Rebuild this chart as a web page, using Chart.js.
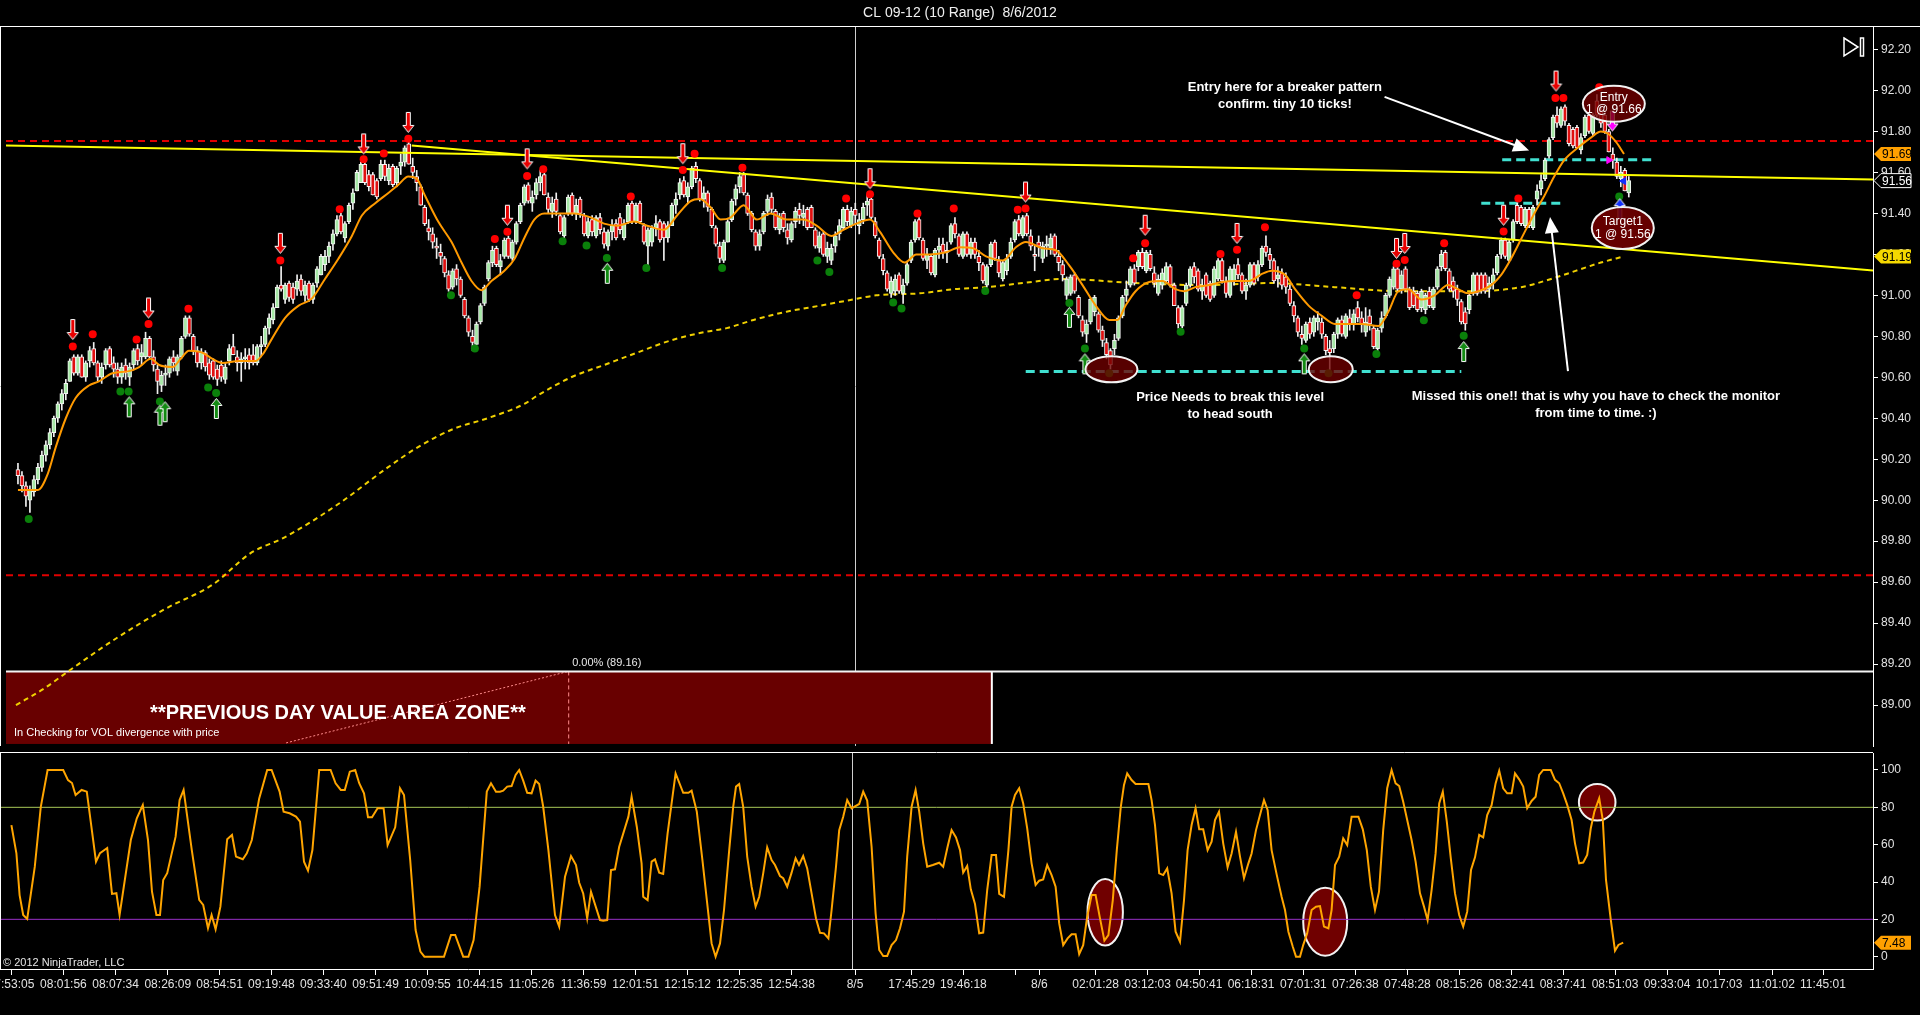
<!DOCTYPE html>
<html>
<head>
<meta charset="utf-8">
<title>CL 09-12 (10 Range) 8/6/2012</title>
<script src="https://cdn.jsdelivr.net/npm/chart.js@4.4.0/dist/chart.umd.min.js"></script>
<style>
  html, body { margin: 0; padding: 0; background: #000; overflow: hidden; }
  #wrap { position: relative; width: 1920px; height: 1015px; background: #000; }
  canvas { position: absolute; left: 0; }
  #priceCv { top: 0; }
  #oscCv { top: 740px; }
</style>
</head>
<body>
<div id="wrap">
  <canvas id="priceCv" width="1920" height="752"></canvas>
  <canvas id="oscCv" width="1920" height="275"></canvas>
</div>
<script>
// ---- range bars (10 ticks), one entry per bar ----
const opens = [
  90.15,90.12,90.07,90.00,90.04,90.10,90.16,90.22,90.27,90.33,
  90.40,90.47,90.52,90.58,90.70,90.62,90.70,90.60,90.68,90.74,
  90.67,90.60,90.66,90.74,90.67,90.64,90.60,90.66,90.60,90.66,
  90.74,90.70,90.70,90.79,90.70,90.64,90.56,90.61,90.62,90.70,
  90.63,90.70,90.80,90.89,90.80,90.73,90.67,90.72,90.67,90.68,
  90.64,90.66,90.59,90.68,90.75,90.70,90.67,90.69,90.71,90.71,
  90.67,90.75,90.76,90.84,90.88,90.94,91.05,90.98,91.06,91.04,
  91.03,91.08,91.00,91.06,90.98,91.06,91.10,91.15,91.19,91.25,
  91.30,91.39,91.28,91.36,91.45,91.51,91.55,91.64,91.59,91.59,
  91.56,91.57,91.64,91.56,91.63,91.55,91.63,91.65,91.74,91.63,
  91.58,91.53,91.43,91.33,91.30,91.24,91.21,91.18,91.10,91.04,
  91.13,91.08,90.98,90.89,90.80,90.76,90.87,90.96,91.08,91.16,
  91.23,91.14,91.19,91.28,91.18,91.26,91.36,91.45,91.54,91.45,
  91.49,91.55,91.59,91.48,91.41,91.47,91.39,91.29,91.40,91.49,
  91.40,91.47,91.39,91.29,91.37,91.29,91.38,91.31,91.24,91.31,
  91.35,91.38,91.28,91.36,91.45,91.36,91.45,91.34,91.24,91.26,
  91.33,91.36,91.35,91.28,91.34,91.44,91.49,91.56,91.48,91.53,
  91.63,91.56,91.47,91.50,91.42,91.33,91.24,91.17,91.26,91.37,
  91.47,91.53,91.59,91.49,91.40,91.31,91.24,91.31,91.41,91.48,
  91.41,91.32,91.40,91.32,91.27,91.36,91.42,91.38,91.42,91.43,
  91.32,91.23,91.30,91.19,91.17,91.24,91.30,91.33,91.42,91.34,
  91.42,91.34,91.37,91.44,91.47,91.36,91.27,91.18,91.11,91.01,
  91.02,91.10,91.01,91.06,91.17,91.27,91.37,91.27,91.17,91.19,
  91.10,91.22,91.25,91.21,91.26,91.35,91.29,91.19,91.30,91.20,
  91.26,91.19,91.15,91.05,91.15,91.26,91.17,91.08,91.12,91.19,
  91.27,91.37,91.29,91.39,91.29,91.20,91.26,91.18,91.24,91.23,
  91.29,91.19,91.15,91.00,91.01,91.10,90.99,90.88,90.81,90.87,
  90.92,90.91,90.83,90.77,90.73,90.74,90.79,90.90,91.00,91.05,
  91.13,91.14,91.21,91.12,91.20,91.11,91.01,91.05,91.07,91.14,
  91.05,90.94,90.85,90.96,91.05,91.14,91.12,91.02,91.10,91.06,
  91.00,91.08,91.17,91.07,91.00,91.07,91.15,91.10,91.02,91.05,
  91.15,91.09,91.15,91.24,91.20,91.17,91.08,91.11,91.09,91.03,
  90.95,90.89,90.81,90.78,90.87,90.82,90.87,90.87,90.80,90.74,
  90.74,90.81,90.88,90.80,90.89,90.86,90.94,90.89,90.82,90.90,
  90.84,90.74,90.84,90.90,91.00,91.04,91.13,91.03,91.13,91.03,
  91.02,91.01,90.94,90.93,91.02,90.94,91.04,91.14,91.21,91.12,
  91.07,91.03,90.97,90.92,90.93,91.01,91.10,91.10,91.10,91.03,
  91.06,91.11,91.20,91.27,91.17,91.27,91.44,91.43,91.34,91.42,
  91.33,91.47,91.52,91.57,91.68,91.77,91.88,91.83,91.92,91.83,
  91.81,91.82,91.71,91.78,91.88,91.79,91.95,91.90,91.88,91.80,
  91.69,91.65,91.57,91.61,91.50
];
const highs = [
  90.18,90.14,90.09,90.07,90.12,90.18,90.24,90.29,90.35,90.41,
  90.48,90.54,90.59,90.69,90.71,90.71,90.71,90.68,90.75,90.77,
  90.68,90.67,90.74,90.75,90.70,90.67,90.67,90.69,90.67,90.74,
  90.76,90.76,90.82,90.80,90.73,90.66,90.63,90.66,90.70,90.73,
  90.71,90.80,90.90,90.90,90.81,90.75,90.74,90.73,90.69,90.69,
  90.66,90.68,90.67,90.76,90.81,90.73,90.72,90.74,90.74,90.76,
  90.76,90.80,90.85,90.91,90.96,91.05,91.14,91.06,91.07,91.06,
  91.10,91.10,91.07,91.07,91.06,91.14,91.20,91.22,91.26,91.32,
  91.39,91.40,91.36,91.45,91.52,91.61,91.65,91.65,91.61,91.60,
  91.57,91.66,91.66,91.64,91.64,91.63,91.69,91.73,91.75,91.67,
  91.61,91.54,91.44,91.37,91.33,91.28,91.25,91.19,91.12,91.13,
  91.15,91.09,90.99,90.90,90.83,90.87,90.96,91.05,91.17,91.24,
  91.24,91.20,91.28,91.29,91.27,91.36,91.45,91.54,91.55,91.51,
  91.57,91.61,91.60,91.50,91.48,91.50,91.40,91.39,91.49,91.50,
  91.47,91.48,91.40,91.38,91.39,91.39,91.40,91.33,91.32,91.37,
  91.37,91.40,91.37,91.45,91.46,91.45,91.46,91.35,91.33,91.34,
  91.39,91.37,91.36,91.36,91.45,91.50,91.57,91.58,91.55,91.63,
  91.65,91.57,91.53,91.51,91.43,91.34,91.26,91.27,91.37,91.47,
  91.54,91.60,91.60,91.50,91.41,91.32,91.32,91.41,91.49,91.50,
  91.42,91.40,91.41,91.35,91.36,91.43,91.45,91.44,91.43,91.44,
  91.33,91.31,91.31,91.26,91.25,91.31,91.37,91.43,91.44,91.43,
  91.45,91.40,91.45,91.49,91.48,91.38,91.28,91.20,91.12,91.09,
  91.10,91.11,91.08,91.16,91.27,91.37,91.38,91.28,91.23,91.20,
  91.23,91.28,91.28,91.26,91.35,91.38,91.30,91.31,91.31,91.28,
  91.28,91.22,91.16,91.15,91.26,91.27,91.19,91.17,91.20,91.28,
  91.37,91.39,91.39,91.40,91.32,91.24,91.29,91.26,91.29,91.30,
  91.30,91.22,91.17,91.09,91.10,91.11,91.00,90.90,90.88,90.99,
  91.00,90.92,90.85,90.79,90.74,90.81,90.90,91.00,91.07,91.14,
  91.15,91.22,91.23,91.22,91.22,91.14,91.10,91.13,91.16,91.15,
  91.06,90.95,90.95,91.06,91.14,91.16,91.13,91.08,91.11,91.07,
  91.14,91.18,91.18,91.09,91.14,91.15,91.18,91.11,91.08,91.16,
  91.16,91.17,91.24,91.29,91.23,91.18,91.14,91.13,91.11,91.05,
  90.97,90.90,90.85,90.87,90.89,90.90,90.92,90.89,90.81,90.78,
  90.82,90.89,90.90,90.91,90.93,90.93,90.97,90.92,90.94,90.93,
  90.85,90.84,90.92,91.01,91.09,91.14,91.14,91.12,91.14,91.04,
  91.04,91.02,91.03,91.01,91.04,91.04,91.14,91.22,91.22,91.13,
  91.09,91.05,90.98,90.94,91.01,91.11,91.11,91.11,91.11,91.09,
  91.13,91.20,91.28,91.28,91.27,91.37,91.45,91.44,91.43,91.43,
  91.44,91.54,91.59,91.67,91.77,91.88,91.92,91.92,91.93,91.84,
  91.82,91.83,91.79,91.88,91.89,91.89,91.98,91.92,91.89,91.81,
  91.72,91.67,91.63,91.62,91.58
];
const lows = [
  90.08,90.04,89.97,89.94,90.02,90.08,90.14,90.19,90.25,90.31,
  90.38,90.44,90.49,90.58,90.61,90.61,90.60,90.58,90.65,90.66,
  90.58,90.57,90.64,90.65,90.60,90.57,90.57,90.59,90.56,90.64,
  90.66,90.66,90.69,90.69,90.63,90.52,90.53,90.56,90.60,90.63,
  90.61,90.69,90.79,90.80,90.71,90.65,90.64,90.63,90.59,90.59,
  90.56,90.58,90.57,90.66,90.71,90.63,90.58,90.64,90.64,90.66,
  90.66,90.70,90.75,90.81,90.86,90.94,91.02,90.96,90.97,90.96,
  91.00,91.00,90.97,90.97,90.96,91.04,91.10,91.12,91.16,91.22,
  91.29,91.30,91.26,91.35,91.42,91.51,91.55,91.54,91.51,91.49,
  91.47,91.56,91.56,91.54,91.53,91.53,91.59,91.63,91.64,91.57,
  91.51,91.44,91.34,91.27,91.23,91.18,91.15,91.09,91.02,91.03,
  91.05,90.99,90.89,90.80,90.73,90.76,90.86,90.95,91.07,91.14,
  91.14,91.10,91.18,91.18,91.17,91.25,91.35,91.44,91.45,91.41,
  91.47,91.51,91.49,91.40,91.38,91.39,91.30,91.28,91.39,91.39,
  91.37,91.38,91.29,91.28,91.29,91.28,91.30,91.23,91.22,91.27,
  91.27,91.30,91.27,91.35,91.35,91.35,91.35,91.25,91.15,91.24,
  91.29,91.26,91.17,91.26,91.34,91.40,91.47,91.48,91.45,91.52,
  91.55,91.46,91.43,91.41,91.33,91.24,91.16,91.16,91.26,91.36,
  91.44,91.50,91.49,91.39,91.31,91.22,91.22,91.30,91.39,91.40,
  91.32,91.30,91.31,91.25,91.26,91.33,91.35,91.34,91.32,91.33,
  91.23,91.21,91.19,91.16,91.15,91.21,91.27,91.32,91.34,91.33,
  91.35,91.30,91.35,91.39,91.37,91.28,91.18,91.10,91.02,90.99,
  91.00,91.01,90.96,91.05,91.16,91.26,91.27,91.17,91.13,91.10,
  91.09,91.18,91.18,91.16,91.25,91.28,91.19,91.18,91.19,91.18,
  91.18,91.12,91.06,91.04,91.14,91.17,91.09,91.07,91.10,91.18,
  91.26,91.29,91.28,91.29,91.22,91.12,91.19,91.16,91.19,91.20,
  91.19,91.12,91.07,90.98,91.00,91.01,90.89,90.80,90.77,90.86,
  90.90,90.82,90.75,90.69,90.64,90.71,90.78,90.89,90.97,91.04,
  91.05,91.12,91.13,91.11,91.12,91.04,91.00,91.03,91.06,91.04,
  90.95,90.84,90.84,90.95,91.04,91.06,91.02,90.98,90.99,90.97,
  90.99,91.07,91.06,90.99,90.99,91.05,91.08,91.01,90.98,91.04,
  91.05,91.07,91.14,91.19,91.13,91.06,91.04,91.03,91.01,90.95,
  90.87,90.80,90.76,90.77,90.79,90.80,90.83,90.79,90.71,90.63,
  90.72,90.79,90.80,90.79,90.83,90.83,90.87,90.82,90.80,90.83,
  90.74,90.73,90.82,90.89,90.99,91.03,91.02,91.01,91.02,90.93,
  90.94,90.92,90.92,90.91,90.94,90.93,91.03,91.12,91.12,91.02,
  90.99,90.95,90.86,90.83,90.91,91.00,91.00,91.01,91.01,90.99,
  91.03,91.10,91.18,91.18,91.16,91.26,91.35,91.34,91.33,91.33,
  91.32,91.44,91.49,91.56,91.67,91.76,91.82,91.82,91.83,91.73,
  91.72,91.72,91.69,91.77,91.79,91.78,91.87,91.82,91.79,91.70,
  91.62,91.57,91.53,91.51,91.48
];
const closes = [
  90.12,90.07,90.02,90.05,90.10,90.16,90.22,90.27,90.33,90.40,
  90.47,90.52,90.57,90.68,90.62,90.70,90.60,90.67,90.73,90.67,
  90.60,90.65,90.73,90.66,90.64,90.60,90.65,90.62,90.65,90.73,
  90.68,90.72,90.79,90.70,90.66,90.58,90.61,90.62,90.69,90.67,
  90.70,90.79,90.89,90.81,90.73,90.67,90.72,90.65,90.61,90.60,
  90.59,90.60,90.65,90.74,90.71,90.67,90.69,90.70,90.67,90.67,
  90.75,90.76,90.84,90.89,90.94,91.04,91.03,91.05,90.99,90.98,
  91.07,91.02,91.05,90.98,91.05,91.13,91.19,91.19,91.24,91.30,
  91.37,91.31,91.35,91.44,91.50,91.60,91.64,91.55,91.53,91.49,
  91.48,91.64,91.58,91.62,91.54,91.62,91.65,91.72,91.64,91.60,
  91.55,91.44,91.35,91.31,91.26,91.23,91.19,91.11,91.03,91.12,
  91.08,91.00,90.90,90.82,90.77,90.86,90.95,91.04,91.16,91.22,
  91.15,91.17,91.27,91.19,91.26,91.35,91.44,91.53,91.46,91.48,
  91.55,91.58,91.49,91.42,91.45,91.41,91.31,91.38,91.48,91.40,
  91.44,91.40,91.30,91.36,91.31,91.38,91.32,91.25,91.31,91.34,
  91.28,91.32,91.35,91.44,91.36,91.44,91.36,91.26,91.32,91.33,
  91.35,91.27,91.28,91.34,91.44,91.47,91.55,91.49,91.53,91.62,
  91.57,91.47,91.50,91.43,91.34,91.25,91.18,91.26,91.36,91.46,
  91.52,91.58,91.50,91.40,91.32,91.24,91.30,91.40,91.47,91.42,
  91.33,91.38,91.33,91.28,91.35,91.41,91.39,91.40,91.33,91.33,
  91.24,91.29,91.20,91.23,91.23,91.29,91.34,91.42,91.36,91.41,
  91.39,91.37,91.43,91.46,91.38,91.29,91.19,91.12,91.03,91.07,
  91.08,91.02,91.05,91.15,91.26,91.36,91.28,91.18,91.20,91.11,
  91.22,91.24,91.21,91.22,91.34,91.30,91.20,91.30,91.20,91.26,
  91.20,91.16,91.07,91.14,91.25,91.18,91.11,91.16,91.18,91.26,
  91.36,91.30,91.38,91.30,91.24,91.19,91.24,91.24,91.25,91.28,
  91.20,91.16,91.10,91.08,91.09,91.02,90.90,90.82,90.86,90.98,
  90.99,90.83,90.78,90.71,90.66,90.78,90.89,90.99,91.03,91.13,
  91.06,91.21,91.14,91.21,91.13,91.06,91.08,91.11,91.14,91.05,
  90.95,90.86,90.94,91.05,91.13,91.09,91.03,91.05,91.00,90.98,
  91.13,91.17,91.07,91.01,91.13,91.13,91.10,91.02,91.05,91.15,
  91.06,91.15,91.23,91.21,91.17,91.07,91.10,91.05,91.04,90.96,
  90.90,90.82,90.79,90.86,90.81,90.89,90.89,90.81,90.73,90.72,
  90.81,90.88,90.81,90.90,90.86,90.91,90.89,90.86,90.87,90.86,
  90.75,90.83,90.89,91.00,91.08,91.13,91.03,91.10,91.03,90.94,
  90.95,90.93,91.02,91.00,90.95,91.03,91.13,91.20,91.13,91.03,
  91.02,90.98,90.87,90.86,91.00,91.10,91.01,91.02,91.02,91.06,
  91.10,91.19,91.27,91.19,91.26,91.36,91.36,91.35,91.42,91.34,
  91.43,91.51,91.56,91.66,91.76,91.87,91.84,91.91,91.85,91.74,
  91.73,91.72,91.77,91.87,91.80,91.88,91.88,91.84,91.80,91.70,
  91.66,91.58,91.60,91.51,91.56
];

// ---- fast average (orange) and slow average (dashed yellow), sampled along the curve ----
const emaIdx = [
  0,5,7.5,9.5,12,14.5,17.8,20.3,23.7,27.8,
  30.4,33.3,35.4,38.8,40.8,42.9,46.3,48.8,51.3,55.4,
  59.6,61.3,63.75,67,70.4,73.75,77,80.4,83.75,86.25,
  89.6,92.9,95.4,97.9,100,102,105.4,108.75,111.25,113.75,
  116.25,118.75,122,124.6,127,129.5,132,135.3,139.5,143.7,
  147,150.3,154.5,157.8,162,165.3,168.7,171,173.7,176.2,
  178.7,182,185.3,188.7,192.8,197,200.3,204,207,210.3,
  213.7,216.2,219.5,222.4,225.3,228.7,232.8,236.2,239.5,242.8,
  247,250.3,252.8,257,260.3,263.7,267,270.3,273.7,275.75,
  277.8,280.3,283.7,287,290.3,292.4,295.3,298.7,302,305.3,
  308.7,312,314.5,317.8,320.3,323.7,327,330.3,333.7,337,
  341.2,343.7,346.2,348.7,352,355.3,358.7,361.2,363.7,367,
  369.5,372,374.5,377,380.3,382.8,385.3,387.8,391.2,394.5,
  397,398.7,400.75,402.8
];
const emaVal = [
  90.05,90.05,90.13,90.26,90.40,90.50,90.56,90.58,90.62,90.63,
  90.65,90.69,90.66,90.65,90.69,90.73,90.72,90.69,90.67,90.68,
  90.68,90.71,90.79,90.89,90.95,90.985,91.08,91.18,91.29,91.39,
  91.45,91.50,91.54,91.58,91.57,91.49,91.36,91.26,91.16,91.07,
  91.025,91.07,91.12,91.18,91.28,91.37,91.40,91.40,91.40,91.38,
  91.35,91.34,91.36,91.34,91.32,91.39,91.46,91.47,91.43,91.37,
  91.38,91.44,91.37,91.40,91.37,91.37,91.34,91.29,91.32,91.35,
  91.37,91.31,91.21,91.16,91.20,91.20,91.21,91.235,91.23,91.19,
  91.17,91.235,91.26,91.23,91.22,91.145,91.05,90.95,90.88,90.88,
  90.95,91.02,91.065,91.07,91.03,91.02,91.04,91.05,91.065,91.07,
  91.07,91.105,91.12,91.10,91.03,90.95,90.90,90.86,90.86,90.86,
  90.85,90.92,91.02,91.03,90.98,91.00,91.05,91.03,91.01,91.025,
  91.05,91.10,91.18,91.275,91.40,91.485,91.58,91.66,91.72,91.77,
  91.80,91.79,91.75,91.69
];
const smaIdx = [
  -0.5,6.5,13,25,37,49,58.25,67,80.25,92.75,
  101.25,109.5,117.75,127,130.25,138.75,147,155.25,163.75,172,
  177.75,184.5,192.75,201.25,209.5,215.25,226.25,234.5,242.75,252,
  262,280.25,297,313.75,330.25,347,363.75,377,384.5,397,
  402.75
];
const smaVal = [
  89.00,89.08,89.17,89.33,89.47,89.59,89.74,89.82,89.98,90.16,
  90.27,90.35,90.40,90.47,90.51,90.60,90.66,90.72,90.78,90.82,
  90.84,90.88,90.92,90.95,90.98,91.00,91.01,91.03,91.04,91.06,
  91.08,91.06,91.05,91.06,91.04,91.02,91.02,91.04,91.08,91.16,
  91.19
];

// ---- lower panel oscillator, vertex by vertex ----
const oscIdx = [
  -0.15,1.1,1.9,2.8,3.8,5.7,7.2,8.9,12.8,14,
  15,15.9,17.4,18.7,21,22,23.8,25,26.1,26.9,
  29.7,31.2,32.7,34,35,36.1,37,37.8,38.8,40.9,
  41.9,42.9,44.95,46.8,47.8,49,49.9,50.9,52.1,53.8,
  55,56,57.7,58.7,59.95,61.8,63.8,64.9,66.9,67.9,
  69.4,71,72,73,74,75.1,76.8,79.65,80.9,82.2,
  83.2,84.45,85.8,86.8,88,89,90,91.4,92.9,93.9,
  95.8,97,98,99.55,100.9,102.1,103.1,108,109.75,110.8,
  112.8,114.1,115.4,116.9,118.7,119.75,121,
  122,122.8,123.8,124.9,125.9,126.8,127.8,128.8,129.9,130.9,
  131.8,132.8,134.1,135.75,136.8,138.25,139.75,141,141.8,142.8,
  143.8,144.75,147,147.8,148.8,149.75,150.75,151.8,154.1,154.9,
  156.2,157.4,157.8,158.9,159.9,160.75,161.8,162.8,163.9,164.9,
  165.9,167.8,169.1,169.9,171.2,172.6,173.8,174.9,175.9,177,
  178,179.3,180.3,181,181.8,182.8,183.8,184.9,185.9,186.8,
  187.8,188.8,189.9,190.75,192,192.8,193.8,194.9,195.9,196.75,
  197.8,198.8,199.9,201,202,203,204.1,204.9,206,206.8,
  207.8,208.8,209.9,211.8,212.8,213.8,214.9,215.9,216.8,217.8,
  218.8,219.9,221,222,223,223.8,224.9,225.9,226.8,227.8,
  228.8,230.2,231.8,232.8,233.9,234.9,236,237,237.8,238.8,
  239.7,240.75,241.8,242.8,243.8,244.9,246,246.8,
  248,249.1,249.9,250.75,251.8,252.8,253.8,254.9,255.9,256.8,
  257.8,258.8,259.9,260.9,261.8,262.8,263.9,264.9,265.9,266.8,
  267.8,268.8,269.9,270.9,272,273.1,274.1,275.2,276.2,277.2,
  278,278.8,279.9,280.9,284.1,284.9,285.75,286.8,287.8,288.8,
  289.9,290.9,292,293,293.9,294.9,295.9,296.8,297.8,298.9,
  299.9,300.75,301.75,302.8,303.9,304.9,306,307,308,309.1,
  309.9,311,312,313,313.9,314.9,316.2,317.4,318.25,319.1,
  320.2,321,322,322.8,323.8,324.9,326,327,328,329.1,
  329.9,330.75,331.8,332.8,333.8,334.9,336.6,337.7,338.7,339.7,
  340.75,341.75,342.8,343.8,344.9,345.9,346.8,347.8,348.8,349.9,
  350.9,352,353,353.9,354.9,355.9,356.8,357.7,358.7,359.7,
  360.75,361.8,362.8,363.8,364.75,365.75,366.8,367.8,368.8,369.9,
  370.9,371.8,
  372.8,373.8,374.9,375.75,376.8,377.8,378.8,379.9,380.9,381.8,
  382.8,384.7,385.75,386.8,387.8,388.8,389.9,390.75,391.8,392.8,
  393.8,394.7,395.6,396.8,397.7,398.5,399.7,400.75,401.6,402.8
];
const oscVal = [
  70.5,55.4,33,22.3,20.2,48.2,80.3,100,100,94.6,
  93,86.6,89.3,88.4,50.9,55.5,58.2,33.6,34,22.4,
  62.5,74.1,81.2,62.5,34.8,22.3,22.3,41.1,44.7,64.3,
  83.9,89.3,57.1,30.4,27.7,15.2,22.3,14.7,26.8,62.9,
  65.2,53.6,52.2,55.4,62.5,84.8,100,100,88.4,77.7,
  76.8,75,72.3,50.9,46.1,57.1,100,100,92.9,89.3,
  89.3,99.1,100,92.9,87.5,74.7,74.7,79.5,79.5,59.8,
  69.3,90.2,86.6,51.8,14.3,2.7,0,0,11.6,11.6,
  0,0,8.9,37.5,88.4,92.9,88.4,
  88.4,88.9,91.1,91.4,97.3,100,94.3,87.8,87.5,94.3,
  92.5,80.3,57.1,22.3,16.1,42.8,53.9,49.1,39.6,33.9,
  20.5,34.8,19.6,19.3,19.6,46.4,46.8,58.9,75,85.7,
  69.6,50,32.1,30.3,50.9,52.1,45,44.3,66.1,82.1,
  98.2,87.8,87.8,88.9,77.7,51.8,28.6,7.1,0,7.1,
  25,57.1,80.3,91.1,92.5,80.3,53.6,37.5,26.8,32.1,
  44.6,58.6,51.8,49.1,43.2,42,37.5,45,52.7,49.1,
  53.9,47.3,33.9,20.5,12.8,12.5,9.8,25,48.2,67.8,
  75,83.9,79.5,81.8,88.4,83.6,58.9,23.2,3.6,0.4,
  0.4,6.2,8.9,15.2,24.1,53.6,80.3,89.3,77.7,60.7,
  48.2,49.1,50.3,48.2,58.9,67.8,63.9,57.1,45,48.6,
  36.1,28.2,12.5,12.9,35.7,54.4,54.4,33.6,
  32.1,57.1,80.3,86.6,90.2,82.1,68.7,50,38.4,40.7,
  41.4,49.1,43.7,37.5,17.8,6.2,9.8,12,12,1.4,
  6.2,21.4,33,33,20.5,8.6,11.6,30.3,57.1,80.3,
  92,98.2,94.6,92.5,92.5,83.9,70.5,44.6,43.7,47.3,
  33.9,13.4,8,30.3,57.1,70.5,79.5,68.2,68.2,57.1,
  61.6,73.2,77.7,60.7,47.8,55.3,66.9,53.6,42,50,
  55.3,67.8,75.9,83.9,78.6,57.1,43.7,32.1,25,13.4,
  5.3,0,0,6.2,12.5,25,26.8,27.1,16.1,15.2,
  25,49.1,53.6,63.4,59.8,75,75,68.2,57.1,37.5,
  25,34.8,67.8,90.2,100,92.8,91.4,83,73.2,62.5,
  50.9,33.9,26.8,19.6,35.7,55.3,82.1,88.4,72.3,52.7,
  33.9,22.3,16.1,24.1,46.4,53.2,65.2,63.9,75.9,81.2,
  92.8,99.6,
  90.2,87.5,87.5,98.2,95,91.1,79.5,83.4,85.7,97.4,
  100,100,94.7,92.9,87.5,81.3,73.2,60.7,50,50.4,
  54.5,68.8,77.7,84.9,73.2,41.1,19.7,3.2,6.3,7.48
];

// ---- signal markers ----
const highDotIdx = [13.75,18.75,29.75,32.75,42.75,65.8,80.7,86.7,91.75,97.9,119.6,122.75,127.7,131.75,153.7,166.75,169.7,181.7,207.7,213.7,225.6,234.7,250.75,252.7,279.7,282.7,301.6,305.75,312.75,335.75,345.75,347.8,357.7,372.6,376.3,385.6,387.6,396.6];
const highDotVal = [90.75,90.81,90.785,90.86,90.935,91.17,91.42,91.664,91.693,91.764,91.275,91.31,91.583,91.615,91.483,91.612,91.691,91.623,91.473,91.494,91.40,91.424,91.418,91.424,91.181,91.254,91.202,91.222,91.332,91.00,91.154,91.172,91.254,91.312,91.473,91.963,91.963,92.016];
const lowDotIdx = [2.7,25.7,27.75,35.6,47.7,49.7,108.6,114.6,136.6,142.6,147.7,157.6,176.6,200.5,203.5,219.5,221.6,242.6,263.7,267.6,273.7,291.6,322.6,328.7,340.7,352.6,362.6,401.6];
const lowDotVal = [89.908,90.531,90.531,90.482,90.55,90.523,91.0,90.741,91.264,91.243,91.182,91.133,91.133,91.17,91.114,90.965,90.936,91.021,90.963,90.741,90.62,90.822,90.741,90.62,90.714,90.879,90.803,91.482];
const sellArrowIdx = [13.75,32.75,65.8,86.7,97.9,122.75,127.7,166.75,213.7,252.7,282.7,305.75,345.75,347.8,372.6,385.75];
const sellArrowVal = [90.782,90.887,91.203,91.688,91.793,91.34,91.615,91.64,91.518,91.453,91.291,91.251,91.178,91.202,91.34,91.995];
const buyArrowIdx = [27.9,35.6,36.9,49.75,147.8,263.7,267.6,322.6,362.6];
const buyArrowVal = [90.507,90.466,90.483,90.499,91.159,90.944,90.717,90.717,90.777];
const entryMarkIdx = [399.9], entryMarkVal = [91.80];
const fillMarkIdx = [399], fillMarkVal = [91.66];
const exitMarkIdx = [402.7], exitMarkVal = [91.558];
const targetMarkIdx = [401.75], targetMarkVal = [91.474];

// ---- levels, drawn lines and axis labels ----
const fullSpan = [-3, 465.25];
const resistanceLevel = 91.754;
const supportLevel = 89.633;
const zoneTop = 89.164, zoneBottom = 88.81;
const zoneIdx = [-3, 244.25];
const fibIdx = [67.25, 138], fibVal = [88.815, 89.164];
const trendAIdx = [-3, 465.25], trendAVal = [91.731, 91.566];
const trendBIdx = [98.75, 465.25], trendBVal = [91.731, 91.121];
const breakLevelIdx = [252.75, 362], breakLevel = 90.628;
const entryLevelIdx = [372.25, 410], entryLevel = 91.662;
const midLevelIdx = [367, 387], midLevel = 91.45;
const sessionBreakIdx = 209.9;
const lastEma = 91.69, lastClose = 91.56, lastSma = 91.19, lastOsc = 7.48;
const oscUpper = 80, oscLower = 20;

const priceTicks = [89.00,89.20,89.40,89.60,89.80,90.00,90.20,90.40,90.60,90.80,91.00,91.20,91.40,91.60,91.80,92.00,92.20];
const oscTicks = [0, 20, 40, 60, 80, 100];
const timeTickIdx = [-0.25,12.85,25.9,38.95,51.9,64.85,77.85,90.9,103.85,116.9,129.9,142.9,155.9,168.9,181.85,194.9,210.75,224.9,237.85,250.9,256.85,270.9,283.9,296.75,309.75,322.85,335.85,348.85,361.85,374.9,387.75,400.75,413.75,426.75,440,452.75];
const timeTickLabels = ['07:53:05','08:01:56','08:07:34','08:26:09','08:54:51','09:19:48','09:33:40','09:51:49','10:09:55','10:44:15','11:05:26','11:36:59','12:01:51','12:15:12','12:25:35','12:54:38','8/5','17:45:29','19:46:18','','8/6','02:01:28','03:12:03','04:50:41','06:18:31','07:01:31','07:26:38','07:48:28','08:15:26','08:32:41','08:37:41','08:51:03','09:33:04','10:17:03','11:01:02','11:45:01'];

const FONT = 'Arial, "Liberation Sans", sans-serif';
const UP = '#a6e8a6', DN = '#e01010';

function pts(ix, vals){ return ix.map((x, k) => ({ x: x, y: vals[k] })); }
function seg(ix, v){ return [{ x: ix[0], y: v }, { x: ix[1], y: v }]; }
function line(data, color, width, dash, order, extra){
  return Object.assign({ type: 'line', data, borderColor: color, borderWidth: width, borderDash: dash || [],
    pointRadius: 0, fill: false, order }, extra || {});
}

// arrow glyphs, tip sits on the canvas centre so the data value is the tip
function makeArrow(fill, dir){
  const c = document.createElement('canvas'); c.width = 13; c.height = 44;
  const g = c.getContext('2d');
  g.beginPath();
  if(dir === 'down'){
    g.moveTo(4.5,1.5); g.lineTo(8.5,1.5); g.lineTo(8.5,14.5); g.lineTo(12,14.5);
    g.lineTo(6.5,21.5); g.lineTo(1,14.5); g.lineTo(4.5,14.5);
  } else {
    g.moveTo(6.5,22.5); g.lineTo(12,29.5); g.lineTo(8.5,29.5); g.lineTo(8.5,42.5);
    g.lineTo(4.5,42.5); g.lineTo(4.5,29.5); g.lineTo(1,29.5);
  }
  g.closePath();
  g.fillStyle = fill; g.fill();
  g.strokeStyle = '#ffffff'; g.lineWidth = 1; g.stroke();
  return c;
}
const sellArrowImg = makeArrow('#e80000', 'down');
const buyArrowImg = makeArrow('#138a13', 'up');
const entryArrowImg = makeArrow('#ff00ff', 'down');
const targetArrowImg = makeArrow('#1030ff', 'up');

function drawTag(ctx, x, y, text, fill, stroke, color){
  ctx.save();
  ctx.beginPath();
  ctx.moveTo(x, y); ctx.lineTo(x + 7, y - 7); ctx.lineTo(x + 37, y - 7);
  ctx.lineTo(x + 37, y + 7); ctx.lineTo(x + 7, y + 7); ctx.closePath();
  ctx.fillStyle = fill; ctx.fill();
  if(stroke){ ctx.strokeStyle = stroke; ctx.lineWidth = 1; ctx.stroke(); }
  ctx.fillStyle = color; ctx.font = '12px ' + FONT;
  ctx.textAlign = 'left'; ctx.textBaseline = 'middle';
  ctx.fillText(text, x + 8, y + 1);
  ctx.restore();
}

function drawEllipse(ctx, cx, cy, rx, ry, fill){
  ctx.beginPath();
  ctx.ellipse(cx, cy, rx, ry, 0, 0, Math.PI * 2);
  ctx.fillStyle = fill; ctx.fill();
  ctx.strokeStyle = '#f2f2f2'; ctx.lineWidth = 2; ctx.stroke();
}

function drawNoteArrow(ctx, x0, y0, x1, y1){
  const ang = Math.atan2(y1 - y0, x1 - x0);
  ctx.strokeStyle = '#ffffff'; ctx.lineWidth = 2;
  ctx.beginPath(); ctx.moveTo(x0, y0);
  ctx.lineTo(x1 - Math.cos(ang) * 10, y1 - Math.sin(ang) * 10); ctx.stroke();
  ctx.beginPath();
  ctx.moveTo(x1, y1);
  ctx.lineTo(x1 - Math.cos(ang) * 16 + Math.sin(ang) * 7, y1 - Math.sin(ang) * 16 - Math.cos(ang) * 7);
  ctx.lineTo(x1 - Math.cos(ang) * 16 - Math.sin(ang) * 7, y1 - Math.sin(ang) * 16 + Math.cos(ang) * 7);
  ctx.closePath(); ctx.fillStyle = '#ffffff'; ctx.fill();
}

const priceOverlay = {
  id: 'priceOverlay',
  beforeDatasetsDraw(chart){
    const { ctx, chartArea: a, scales: { x, y } } = chart;
    ctx.save();
    const sx = Math.round(x.getPixelForValue(sessionBreakIdx)) + 0.5;
    ctx.strokeStyle = '#cfcfcf'; ctx.lineWidth = 1;
    ctx.beginPath(); ctx.moveTo(sx, a.top); ctx.lineTo(sx, a.bottom); ctx.stroke();

    // previous day value area box
    const bx0 = x.getPixelForValue(zoneIdx[0]), bx1 = x.getPixelForValue(zoneIdx[1]);
    const by0 = y.getPixelForValue(zoneTop), by1 = y.getPixelForValue(zoneBottom);
    ctx.fillStyle = '#680000';
    ctx.fillRect(bx0, by0, bx1 - bx0, by1 - by0);
    ctx.strokeStyle = '#ffffff'; ctx.lineWidth = 2;
    ctx.beginPath(); ctx.moveTo(bx1, by0); ctx.lineTo(bx1, by1); ctx.stroke();

    const fx0 = x.getPixelForValue(fibIdx[0]), fx1 = x.getPixelForValue(fibIdx[1]);
    ctx.strokeStyle = '#ff8c8c'; ctx.lineWidth = 1; ctx.setLineDash([2, 2]);
    ctx.beginPath(); ctx.moveTo(fx0, y.getPixelForValue(fibVal[0])); ctx.lineTo(fx1, y.getPixelForValue(fibVal[1])); ctx.stroke();
    ctx.setLineDash([4, 3]);
    ctx.beginPath(); ctx.moveTo(fx1 + 0.5, by0); ctx.lineTo(fx1 + 0.5, by1); ctx.stroke();
    ctx.setLineDash([]);

    ctx.fillStyle = '#e8e8e8'; ctx.font = '11px ' + FONT;
    ctx.textAlign = 'left'; ctx.textBaseline = 'middle';
    ctx.fillText('0.00% (89.16)', fx1 + 4, by0 - 8);

    ctx.fillStyle = '#ffffff'; ctx.font = 'bold 20px ' + FONT; ctx.textAlign = 'center';
    ctx.fillText('**PREVIOUS DAY VALUE AREA ZONE**', x.getPixelForValue(80.25), y.getPixelForValue(88.961));
    ctx.font = '11px ' + FONT; ctx.textAlign = 'left';
    ctx.fillText('In Checking for VOL divergence with price', x.getPixelForValue(-1), y.getPixelForValue(88.864));
    ctx.restore();
  },
  afterDatasetsDraw(chart){
    const { ctx, scales: { x, y } } = chart;
    const X = v => x.getPixelForValue(v), Y = v => y.getPixelForValue(v);
    ctx.save();
    // level break circles
    drawEllipse(ctx, X(274.25), Y(90.639), 26, 13, 'rgba(112,0,0,0.78)');
    drawEllipse(ctx, X(329.25), Y(90.639), 22, 13, 'rgba(112,0,0,0.78)');
    // trade labels
    drawEllipse(ctx, X(400.25), Y(91.935), 31, 18, 'rgba(112,0,0,0.8)');
    drawEllipse(ctx, X(402.5), Y(91.329), 31, 21, 'rgba(112,0,0,0.9)');
    ctx.fillStyle = '#ffffff'; ctx.font = '12px ' + FONT;
    ctx.textAlign = 'center'; ctx.textBaseline = 'middle';
    ctx.fillText('Entry', X(400.25), Y(91.935) - 6);
    ctx.fillText('1 @ 91.66', X(400.25), Y(91.935) + 6);
    ctx.fillText('Target1', X(402.5), Y(91.329) - 6);
    ctx.fillText('1 @ 91.56', X(402.5), Y(91.329) + 7);

    // notes
    ctx.font = 'bold 13px ' + FONT;
    ctx.fillText('Entry here for a breaker pattern', X(317.75), Y(92.013));
    ctx.fillText('confirm. tiny 10 ticks!', X(317.75), Y(91.93));
    ctx.fillText('Price Needs to break this level', X(304), Y(90.503));
    ctx.fillText('to head south', X(304), Y(90.421));
    ctx.fillText('Missed this one!! that is why you have to check the monitor', X(395.75), Y(90.508));
    ctx.fillText('from time to time. :)', X(395.75), Y(90.426));
    drawNoteArrow(ctx, X(342.75), Y(91.969), X(379), Y(91.707));
    drawNoteArrow(ctx, X(388.75), Y(90.63), X(384.25), Y(91.382));
    ctx.restore();
  },
  afterDraw(chart){
    const { ctx, chartArea: a, scales: { y } } = chart;
    ctx.save();
    ctx.strokeStyle = '#ffffff'; ctx.lineWidth = 1;
    ctx.beginPath(); ctx.moveTo(0, a.top - 0.5); ctx.lineTo(1920, a.top - 0.5); ctx.stroke();
    ctx.beginPath(); ctx.moveTo(0.5, a.top); ctx.lineTo(0.5, a.bottom); ctx.stroke();

    ctx.fillStyle = '#f0f0f0'; ctx.font = '14px ' + FONT;
    ctx.textAlign = 'center'; ctx.textBaseline = 'middle';
    ctx.fillText('CL 09-12 (10 Range)  8/6/2012', 960, 13);

    // scroll-to-end glyph
    ctx.strokeStyle = '#ffffff'; ctx.lineWidth = 1.5;
    ctx.beginPath(); ctx.moveTo(1844, 38); ctx.lineTo(1858, 47); ctx.lineTo(1844, 56); ctx.closePath(); ctx.stroke();
    ctx.strokeRect(1860.5, 38, 3, 18);

    const ax = a.right + 1;
    drawTag(ctx, ax, y.getPixelForValue(lastEma), lastEma.toFixed(2), '#ffa000', null, '#000000');
    drawTag(ctx, ax, y.getPixelForValue(lastClose), lastClose.toFixed(2), '#000000', '#ffffff', '#ffffff');
    drawTag(ctx, ax, y.getPixelForValue(lastSma), lastSma.toFixed(2), '#f5d800', null, '#000000');
    ctx.restore();
  }
};

const oscOverlay = {
  id: 'oscOverlay',
  beforeDatasetsDraw(chart){
    const { ctx, chartArea: a, scales: { x, y } } = chart;
    ctx.save();
    const sx = Math.round(x.getPixelForValue(sessionBreakIdx)) + 0.5;
    ctx.strokeStyle = '#cfcfcf'; ctx.lineWidth = 1;
    ctx.beginPath(); ctx.moveTo(sx, a.top); ctx.lineTo(sx, a.bottom); ctx.stroke();
    drawEllipse(ctx, x.getPixelForValue(273.3), y.getPixelForValue(23.8), 17.7, 33.3, '#700000');
    drawEllipse(ctx, x.getPixelForValue(328.3), y.getPixelForValue(18.7), 22, 34, '#700000');
    drawEllipse(ctx, x.getPixelForValue(396.3), y.getPixelForValue(82.7), 18.3, 18.3, '#700000');
    ctx.restore();
  },
  afterDraw(chart){
    const { ctx, chartArea: a, scales: { y } } = chart;
    ctx.save();
    ctx.strokeStyle = '#ffffff'; ctx.lineWidth = 1;
    ctx.beginPath(); ctx.moveTo(0, a.top - 0.5); ctx.lineTo(a.right, a.top - 0.5); ctx.stroke();
    ctx.beginPath(); ctx.moveTo(0.5, a.top); ctx.lineTo(0.5, a.bottom); ctx.stroke();
    ctx.fillStyle = '#e6e6e6'; ctx.font = '11px ' + FONT;
    ctx.textAlign = 'left'; ctx.textBaseline = 'middle';
    ctx.fillText('\u00A9 2012 NinjaTrader, LLC', 3, a.bottom - 6);
    drawTag(ctx, a.right + 1, y.getPixelForValue(lastOsc), lastOsc.toFixed(2), '#ffa000', null, '#000000');
    ctx.restore();
  }
};

const bodyColors = opens.map((o, i) => closes[i] >= o ? UP : DN);

new Chart(document.getElementById('priceCv'), {
  type: 'bar',
  data: {
    datasets: [
      line(seg(fullSpan, zoneTop), '#f4f4f4', 2, null, 13),
      line(seg(fullSpan, resistanceLevel), '#e00000', 2, [7, 5], 12),
      line(seg(fullSpan, supportLevel), '#e00000', 2, [7, 5], 12),
      line(pts(smaIdx, smaVal), '#f0d000', 2, [5, 4], 11, { cubicInterpolationMode: 'monotone' }),
      line(seg(breakLevelIdx, breakLevel), '#40e0d0', 3, [9, 5], 10),
      line(seg(entryLevelIdx, entryLevel), '#40e0d0', 3, [9, 5], 10),
      line(seg(midLevelIdx, midLevel), '#40e0d0', 3, [9, 5], 10),
      { type: 'bar', data: lows.map((l, i) => ({ x: i, y: [l, highs[i]] })),
        backgroundColor: '#f0f0f0', barThickness: 1, grouped: false, order: 8 },
      { type: 'bar', data: opens.map((o, i) => ({ x: i, y: [o, closes[i]] })),
        backgroundColor: bodyColors, borderColor: '#f4f4f4', borderWidth: 1, borderSkipped: false,
        barThickness: 4, grouped: false, order: 7 },
      line(pts(trendAIdx, trendAVal), '#ffff00', 2, null, 6),
      line(pts(trendBIdx, trendBVal), '#ffff00', 2, null, 6),
      line(pts(emaIdx, emaVal), '#ff9a00', 2, null, 5, { cubicInterpolationMode: 'monotone' }),
      { type: 'line', data: pts(highDotIdx, highDotVal), showLine: false, pointRadius: 4,
        pointBackgroundColor: '#ff0000', pointBorderWidth: 0, order: 4 },
      { type: 'line', data: pts(lowDotIdx, lowDotVal), showLine: false, pointRadius: 4,
        pointBackgroundColor: '#0a800a', pointBorderWidth: 0, order: 4 },
      { type: 'line', data: pts(sellArrowIdx, sellArrowVal), showLine: false, pointRadius: 5,
        pointStyle: sellArrowImg, order: 3 },
      { type: 'line', data: pts(buyArrowIdx, buyArrowVal), showLine: false, pointRadius: 5,
        pointStyle: buyArrowImg, order: 3 },
      { type: 'line', data: pts(entryMarkIdx, entryMarkVal), showLine: false, pointRadius: 5,
        pointStyle: entryArrowImg, order: 2 },
      { type: 'line', data: pts(targetMarkIdx, targetMarkVal), showLine: false, pointRadius: 5,
        pointStyle: targetArrowImg, order: 2 },
      { type: 'line', data: pts(fillMarkIdx, fillMarkVal), showLine: false, pointRadius: 4,
        pointStyle: 'triangle', rotation: 90, pointBackgroundColor: '#ff00ff', pointBorderColor: '#ff00ff', order: 2 },
      { type: 'line', data: pts(exitMarkIdx, exitMarkVal), showLine: false, pointRadius: 4,
        pointStyle: 'triangle', rotation: -90, pointBackgroundColor: '#1030ff', pointBorderColor: '#1030ff', order: 2 }
    ]
  },
  options: {
    responsive: false, animation: false, devicePixelRatio: 1,
    layout: { padding: { top: 27, bottom: 2, left: 0, right: 0 } },
    plugins: { legend: { display: false }, tooltip: { enabled: false } },
    scales: {
      x: { type: 'linear', min: fullSpan[0], max: fullSpan[1], display: false, offset: false, grid: { offset: false } },
      y: {
        position: 'right', min: 88.80, max: 92.31,
        afterBuildTicks: s => { s.ticks = priceTicks.map(v => ({ value: v })); },
        afterFit: s => { s.width = 47; s.paddingTop = 0; s.paddingBottom = 0; },
        ticks: { color: '#e2e2e2', font: { family: FONT, size: 12 }, padding: 3, callback: v => Number(v).toFixed(2) },
        grid: { drawOnChartArea: false, drawTicks: true, tickLength: 5, color: '#ffffff' },
        border: { display: true, color: '#ffffff', width: 1 }
      }
    }
  },
  plugins: [priceOverlay]
});

new Chart(document.getElementById('oscCv'), {
  type: 'line',
  data: {
    datasets: [
      line(pts(oscIdx, oscVal), '#ffa500', 2, null, 1),
      line(seg(fullSpan, oscUpper), '#a8c858', 1, null, 3),
      line(seg(fullSpan, oscLower), '#9a30c8', 1, null, 3)
    ]
  },
  options: {
    responsive: false, animation: false, devicePixelRatio: 1,
    layout: { padding: { top: 13, bottom: 0, left: 0, right: 0 } },
    plugins: { legend: { display: false }, tooltip: { enabled: false } },
    scales: {
      x: {
        type: 'linear', min: fullSpan[0], max: fullSpan[1],
        afterBuildTicks: s => { s.ticks = timeTickIdx.map(v => ({ value: v })); },
        afterFit: s => { s.height = 46; s.paddingLeft = 0; s.paddingRight = 0; },
        ticks: { color: '#e2e2e2', font: { family: FONT, size: 12 }, padding: 2, autoSkip: false,
          maxRotation: 0, minRotation: 0, callback: (v, i) => timeTickLabels[i] },
        grid: { drawOnChartArea: false, drawTicks: true, tickLength: 6, color: '#ffffff' },
        border: { display: true, color: '#ffffff', width: 1 }
      },
      y: {
        position: 'right', min: -6.6, max: 109.1,
        afterBuildTicks: s => { s.ticks = oscTicks.map(v => ({ value: v })); },
        afterFit: s => { s.width = 47; s.paddingTop = 0; s.paddingBottom = 0; },
        ticks: { color: '#e2e2e2', font: { family: FONT, size: 12 }, padding: 3, callback: v => String(v) },
        grid: { drawOnChartArea: false, drawTicks: true, tickLength: 5, color: '#ffffff' },
        border: { display: true, color: '#ffffff', width: 1 }
      }
    }
  },
  plugins: [oscOverlay]
});
</script>
</body>
</html>
